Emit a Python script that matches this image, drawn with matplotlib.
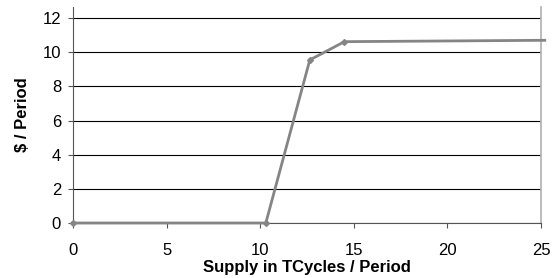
import matplotlib
matplotlib.use("Agg")
import matplotlib.pyplot as plt

supply = [0, 10.3, 12.65, 14.5, 25.2]
price = [0, 0, 9.55, 10.62, 10.7]

x_ticks = [0, 5, 10, 15, 20, 25]
y_ticks = [0, 2, 4, 6, 8, 10, 12]

plt.rcParams["font.family"] = ["Liberation Sans", "DejaVu Sans"]

fig = plt.figure(figsize=(5.59, 2.78), dpi=100)
ax = fig.add_axes([73 / 559, 1 - 223 / 278, 468 / 559, 216 / 278])

for y in y_ticks:
    ax.axhline(y, color="black", linewidth=0.8, zorder=1)

ax.plot(supply, price, color="#858585", linewidth=2, marker="D", markersize=3,
        markevery=[0, 1, 2, 3], zorder=3, clip_on=False)

ax.set_xlim(0, 25)
ax.set_ylim(0, 12.65)
ax.set_xticks(x_ticks)
ax.set_yticks(y_ticks)
ax.tick_params(direction="out", length=3.6, width=0.8, labelsize=12, colors="#555555",
               labelcolor="black")
ax.tick_params(axis="x", pad=11)
ax.tick_params(axis="y", pad=5)

ax.spines["top"].set_visible(False)
ax.spines["left"].set_color("#555555")
ax.spines["bottom"].set_color("#555555")
ax.spines["right"].set_color("#b0b0b0")
ax.spines["right"].set_linewidth(1.2)

ax.set_xlabel("Supply in TCycles / Period", fontsize=12, fontweight="bold", labelpad=1)
ax.set_ylabel("$ / Period", fontsize=12, fontweight="bold", labelpad=9)

fig.savefig("out.png", dpi=100, facecolor="white")
